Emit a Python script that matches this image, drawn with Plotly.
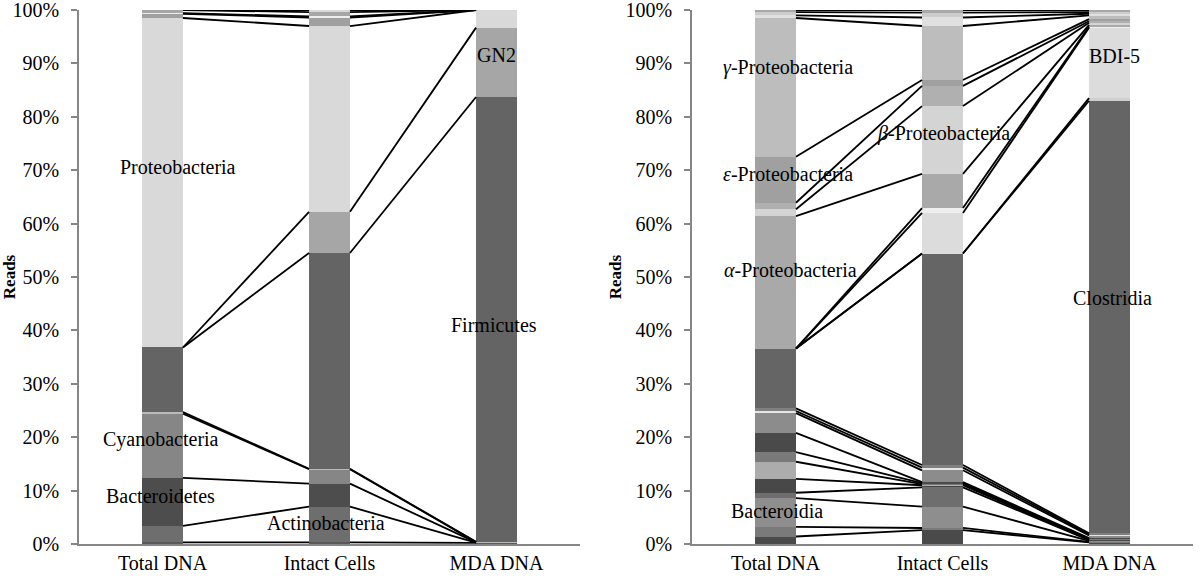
import numpy as np
import plotly.graph_objects as go

CATS = ["Total DNA", "Intact Cells", "MDA DNA"]

# ---- Left panel (phyla), bottom -> top, values in % for [Total DNA, Intact Cells, MDA DNA]
L_NAMES = ["Other1", "Actinobacteria", "Bacteroidetes", "Cyanobacteria", "Other2",
           "Firmicutes", "GN2", "Proteobacteria", "Other3", "Other4", "Other5", "Other6"]
L_VALUES = [
    [0.3, 0.3, 0.2],
    [3.1, 6.7, 0.05],
    [9.0, 4.3, 0.05],
    [12.0, 2.7, 0.05],
    [0.3, 0.1, 0.05],
    [12.1, 40.4, 83.3],
    [0.0, 7.7, 13.0],
    [61.7, 34.8, 3.3],
    [0.8, 1.6, 0.0],
    [0.1, 0.2, 0.0],
    [0.6, 0.8, 0.0],
    [0.0, 0.4, 0.0],
]
L_COLORS = ["#595959", "#6e6e6e", "#4d4d4d", "#868686", "#bbbbbb",
            "#646464", "#a6a6a6", "#d9d9d9", "#a0a0a0", "#eeeeee", "#a6a6a6", "#d9d9d9"]

# ---- Right panel (classes), bottom -> top
R_NAMES = ["c1", "c2", "Bacteroidia", "c4", "c5", "c6", "c7", "c8", "c9", "c10", "c11",
           "Clostridia", "Bacilli", "BDI-5", "c15", "alpha-Proteobacteria",
           "beta-Proteobacteria", "c18", "epsilon-Proteobacteria", "gamma-Proteobacteria",
           "c21", "c22", "c23"]
R_VALUES = [
    [1.4, 2.6, 0.3],
    [1.8, 0.4, 0.1],
    [5.4, 4.0, 0.2],
    [1.0, 3.6, 0.1],
    [2.6, 0.4, 0.1],
    [3.2, 0.2, 0.1],
    [1.8, 0.2, 0.1],
    [3.6, 0.2, 0.1],
    [3.7, 2.2, 0.5],
    [0.4, 0.5, 0.2],
    [0.5, 0.5, 0.2],
    [11.2, 39.6, 81.0],
    [0.0, 0.0, 0.5],
    [0.0, 7.6, 13.2],
    [0.0, 0.9, 0.2],
    [24.8, 6.4, 0.3],
    [1.3, 12.7, 0.4],
    [1.2, 3.8, 0.3],
    [8.6, 1.1, 0.4],
    [26.0, 10.1, 0.7],
    [0.5, 1.6, 0.3],
    [0.6, 0.9, 0.3],
    [0.4, 0.5, 0.4],
]
R_COLORS = ["#4a4a4a", "#7a7a7a", "#8e8e8e", "#6e6e6e", "#484848", "#acacac", "#7a7a7a",
            "#4a4a4a", "#8c8c8c", "#e6e6e6", "#808080", "#656565", "#d0d0d0", "#dcdcdc",
            "#eeeeee", "#a9a9a9", "#d4d4d4", "#b0b0b0", "#a0a0a0", "#bdbdbd", "#e0e0e0",
            "#cccccc", "#a8a8a8"]

BAR_W = 0.245
FONT = "Liberation Serif"
AXC = "#868686"
FS = 20

fig = go.Figure()
xs = np.arange(len(CATS))


def add_panel(values, colors, names, xa, ya):
    vals = np.array(values, dtype=float)
    for v, c, n in zip(vals, colors, names):
        fig.add_trace(go.Bar(x=xs, y=v, width=BAR_W, marker_color=c, marker_line_width=0,
                             name=n, showlegend=False, hoverinfo="skip",
                             xaxis=xa, yaxis=ya))
    tops = np.cumsum(vals, axis=0)
    lx, ly = [], []
    for row in tops:
        for i in range(len(CATS) - 1):
            lx += [xs[i] + BAR_W / 2, xs[i + 1] - BAR_W / 2, None]
            ly += [row[i], row[i + 1], None]
    fig.add_trace(go.Scatter(x=lx, y=ly, mode="lines", line=dict(color="black", width=1.8),
                             showlegend=False, hoverinfo="skip", xaxis=xa, yaxis=ya))


add_panel(L_VALUES, L_COLORS, L_NAMES, "x", "y")
add_panel(R_VALUES, R_COLORS, R_NAMES, "x2", "y2")

xa_common = dict(range=[-0.5, 2.5], tickvals=list(xs), ticktext=CATS, showline=True,
                 linecolor=AXC, linewidth=1.5, ticks="", showgrid=False, zeroline=False,
                 tickfont=dict(family=FONT, size=FS, color="black"), fixedrange=True)
ya_common = dict(range=[0, 100], dtick=10, ticksuffix="%", showline=True, linecolor=AXC,
                 linewidth=1.5, ticks="outside", ticklen=6, tickcolor=AXC, tickwidth=1.5,
                 showgrid=False, zeroline=False, ticklabelstandoff=8,
                 ticklabeloverflow="allow",
                 tickfont=dict(family=FONT, size=FS, color="black"),
                 title=dict(text="<b>Reads</b>", font=dict(family=FONT, size=17, color="black"),
                            standoff=0), automargin=False, fixedrange=True)

fig.update_layout(
    width=1200, height=578,
    margin=dict(l=0, r=0, t=10, b=34),
    paper_bgcolor="white", plot_bgcolor="white",
    barmode="stack", bargap=0,
    xaxis=dict(domain=[79 / 1200, 580 / 1200], anchor="y", **xa_common),
    yaxis=dict(domain=[0, 1], anchor="x", **ya_common),
    xaxis2=dict(domain=[692 / 1200, 1193 / 1200], anchor="y2", **xa_common),
    yaxis2=dict(domain=[0, 1], anchor="x2", **ya_common),
    font=dict(family=FONT, size=FS, color="black"),
)

LABELS = [
    ("x", "y", 0.09, 70.6, "Proteobacteria"),
    ("x", "y", -0.01, 19.5, "Cyanobacteria"),
    ("x", "y", -0.01, 9.0, "Bacteroidetes"),
    ("x", "y", 0.98, 3.9, "Actinobacteria"),
    ("x", "y", 1.985, 41.0, "Firmicutes"),
    ("x", "y", 2.0, 91.6, "GN2"),
    ("x2", "y2", 0.075, 89.3, "<i>γ</i>-Proteobacteria"),
    ("x2", "y2", 0.075, 69.3, "<i>ε</i>-Proteobacteria"),
    ("x2", "y2", 0.087, 51.3, "<i>α</i>-Proteobacteria"),
    ("x2", "y2", 1.003, 76.8, "<i>β</i>-Proteobacteria"),
    ("x2", "y2", 2.03, 91.4, "BDI-5"),
    ("x2", "y2", 2.02, 46.1, "Clostridia"),
    ("x2", "y2", 0.01, 6.2, "Bacteroidia"),
]
for xr, yr, x, y, t in LABELS:
    fig.add_annotation(xref=xr, yref=yr, x=x, y=y, text=t, showarrow=False,
                       font=dict(family=FONT, size=FS, color="black"))

# remove the default 8px page margin so the figure sits at the window's top-left corner
fig.write_html("out.html", config={"displayModeBar": False},
               post_script="document.body.style.margin='0';")
